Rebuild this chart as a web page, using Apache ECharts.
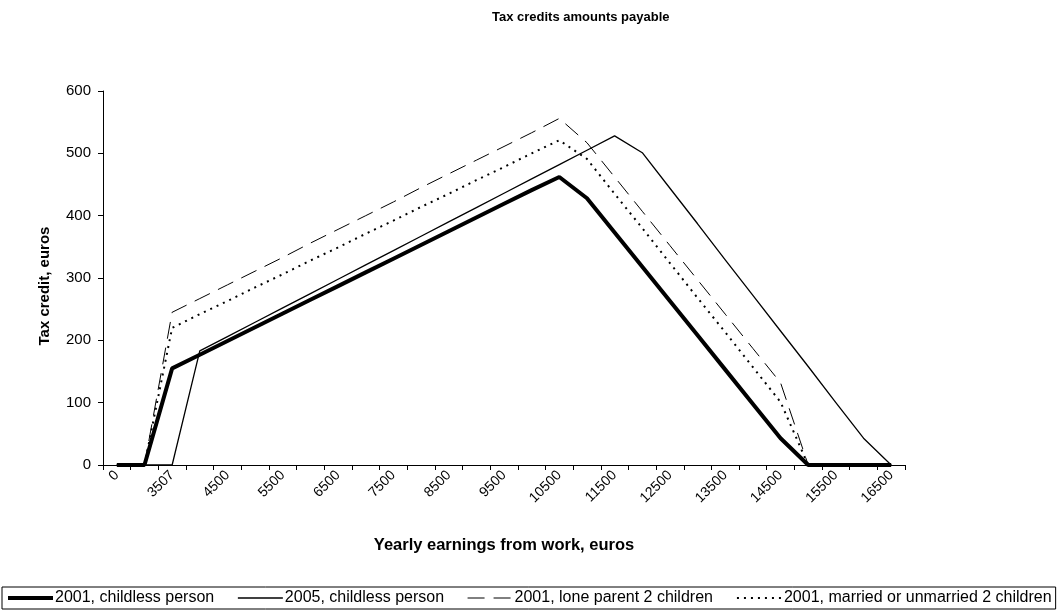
<!DOCTYPE html>
<html>
<head>
<meta charset="utf-8">
<script src="https://cdn.jsdelivr.net/npm/echarts@6/dist/echarts.min.js"></script>
<style>
html,body{margin:0;padding:0;background:#fff;}
#chart{width:1062px;height:615px;}
</style>
</head>
<body>
<div id="chart"></div>
<script>
const categories = ['0','3000','3507','4000','4500','5000','5500','6000','6500','7000','7500','8000','8500','9000','9500','10000','10500','11000','11500','12000','12500','13000','13500','14000','14500','15000','15500','16000','16500'];
const childless2001 = [0,0,155,177,199,221,243,265,287,309,331,353,375,397,419,441,462,428,373,318,263,208,153,98,43,0,0,0,0];
const childless2005 = [0,0,0,183,206,229,252,275,298,321,344,367,390,413,436,459,482,505,528,501,444,387,329,272,215,158,100,43,0];
const loneParent2001 = [0,0,245,267,289,311,333,356,378,400,422,445,467,489,511,533,556,517,462,407,352,297,242,187,132,0,0,0,0];
const married2001 = [0,0,220,242,263,285,306,328,349,371,392,414,435,457,478,500,521,491,435,380,324,268,213,157,101,0,0,0,0];
const seriesNames = ['2001, childless person','2005, childless person','2001, lone parent 2 children','2001, married or unmarried 2 children'];

const FONT = '"Liberation Sans", Arial, sans-serif';
const styles = [
  {color:'#000',width:4,type:'solid'},
  {color:'#000',width:1.3,type:'solid'},
  {color:'#000',width:1,type:[17,9]},
  {color:'#000',width:2,type:[2,5]}
];
const hiddenSymbol = {color:'rgba(0,0,0,0)',borderColor:'rgba(0,0,0,0)',borderWidth:0};

const chart = echarts.init(document.getElementById('chart'), null, {renderer:'canvas'});
chart.setOption({
  animation:false,
  backgroundColor:'#fff',
  title:{
    text:'Tax credits amounts payable',
    left:487, top:6,
    textStyle:{fontFamily:FONT,fontSize:13,fontWeight:'bold',color:'#000'}
  },
  grid:{left:103,right:157,top:91,bottom:150,containLabel:false},
  legend:{
    left:2, top:587,
    padding:[3,4,3,4],
    borderColor:'#000', borderWidth:1,
    itemWidth:45, itemHeight:12, itemGap:23,
    textStyle:{fontFamily:FONT,fontSize:16,color:'#000',padding:[0,0,0,-3]},
    data:seriesNames.map((n,i)=>({name:n,lineStyle:Object.assign({},styles[i]),itemStyle:hiddenSymbol}))
  },
  xAxis:{
    type:'category',
    data:categories,
    boundaryGap:true,
    name:'Yearly earnings from work, euros',
    nameLocation:'middle',
    nameGap:72,
    nameTextStyle:{fontFamily:FONT,fontSize:16.5,fontWeight:'bold',color:'#000'},
    axisLine:{lineStyle:{color:'#000',width:1}},
    axisTick:{show:true,interval:0,length:5,inside:false,lineStyle:{color:'#000'}},
    axisLabel:{interval:1,rotate:45,fontFamily:FONT,fontSize:14,color:'#000',margin:8},
    splitLine:{show:false}
  },
  yAxis:{
    type:'value',
    min:0,max:600,interval:100,
    name:'Tax credit, euros',
    nameLocation:'middle',
    nameRotate:90,
    nameGap:51,
    nameTextStyle:{fontFamily:FONT,fontSize:15,fontWeight:'bold',color:'#000',padding:[0,16,0,0]},
    axisLine:{show:true,lineStyle:{color:'#000',width:1}},
    axisTick:{show:true,length:5,lineStyle:{color:'#000'}},
    axisLabel:{fontFamily:FONT,fontSize:15,color:'#000',margin:12},
    splitLine:{show:false}
  },
  series:[
    {name:seriesNames[0],type:'line',data:childless2001,symbol:'none',lineStyle:styles[0],itemStyle:{color:'#000'},z:5},
    {name:seriesNames[1],type:'line',data:childless2005,symbol:'none',lineStyle:styles[1],itemStyle:{color:'#000'},z:4},
    {name:seriesNames[2],type:'line',data:loneParent2001,symbol:'none',lineStyle:styles[2],itemStyle:{color:'#000'},z:3},
    {name:seriesNames[3],type:'line',data:married2001,symbol:'none',lineStyle:styles[3],itemStyle:{color:'#000'},z:3}
  ]
});
</script>
</body>
</html>
